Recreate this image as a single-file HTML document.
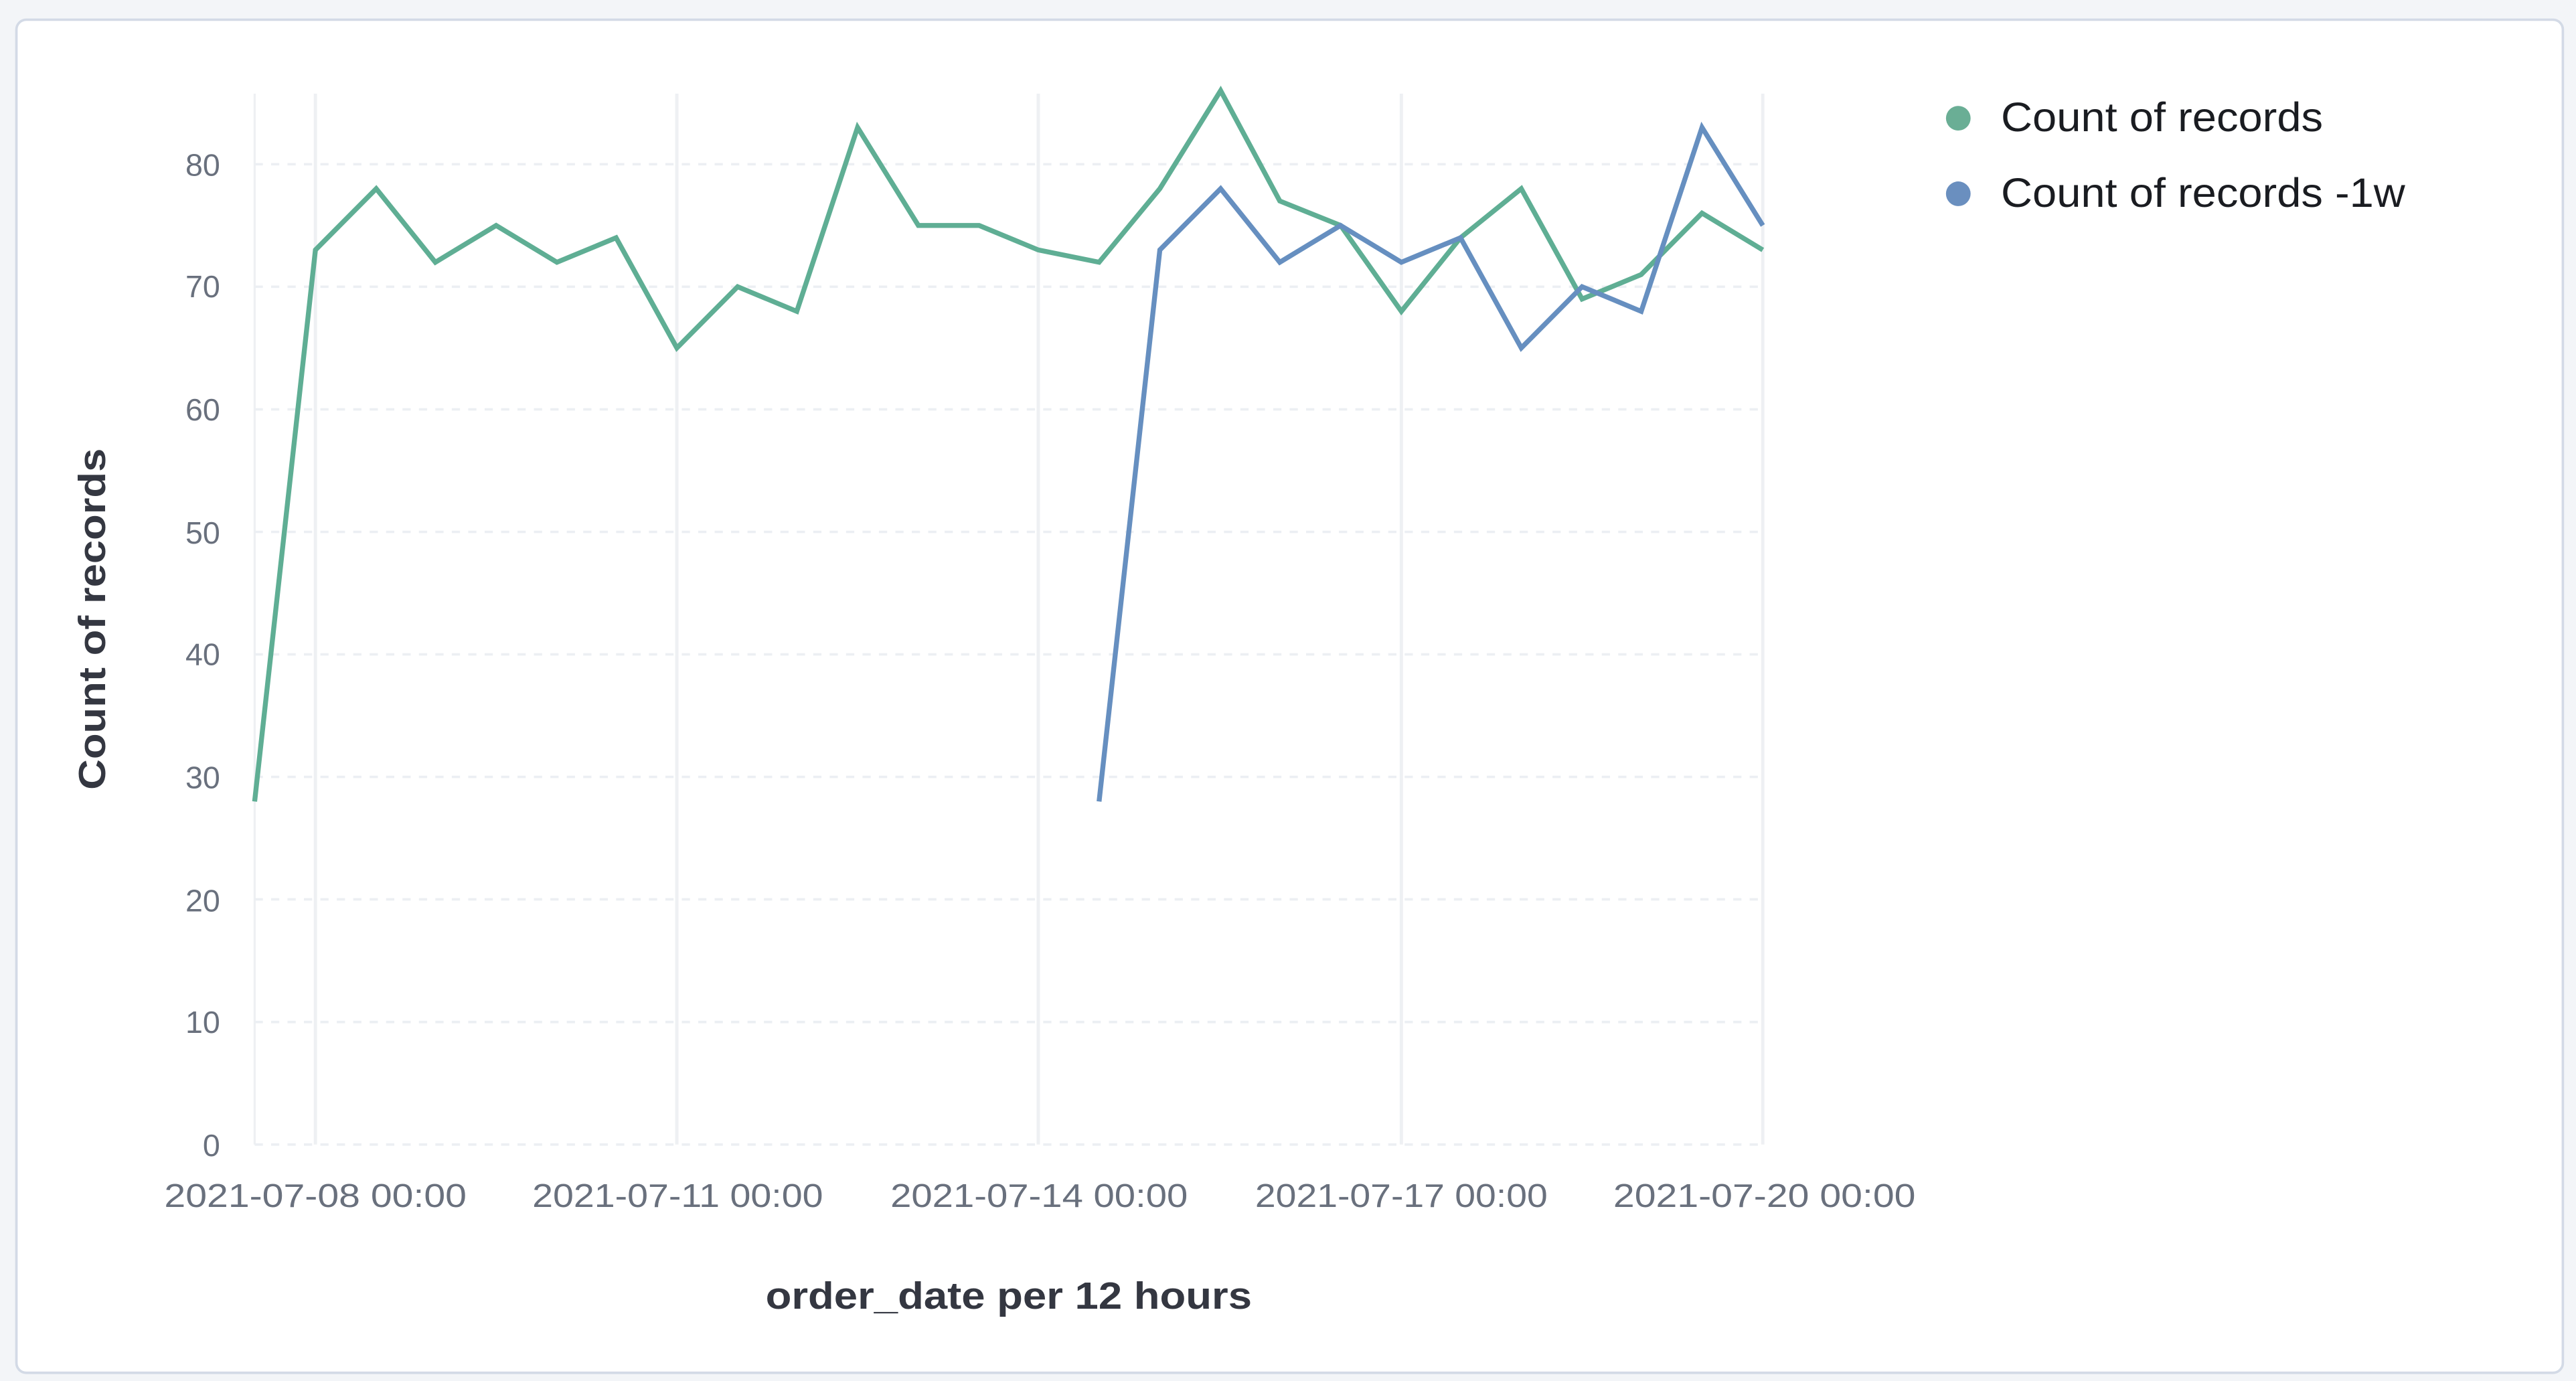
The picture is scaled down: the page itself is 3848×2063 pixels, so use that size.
<!DOCTYPE html>
<html><head><meta charset="utf-8"><style>
html,body{margin:0;padding:0;background:#f3f5f8;}
svg{display:block}
</style></head><body>
<svg width="3848" height="2063" viewBox="0 0 1568 841" preserveAspectRatio="none" xmlns="http://www.w3.org/2000/svg" font-family="'Liberation Sans', sans-serif">
<rect x="0" y="0" width="1568" height="841" fill="#f3f5f8"/>
<rect x="10" y="12" width="1550" height="824" rx="6" fill="#fff" stroke="#d3dae6" stroke-width="1.5"/>
<g stroke="#eef0f3" stroke-width="1.3">
<line x1="155" y1="57" x2="155" y2="697"/>
<line x1="192" y1="57" x2="192" y2="697" stroke-width="2"/>
<line x1="412" y1="57" x2="412" y2="697" stroke-width="2"/>
<line x1="632" y1="57" x2="632" y2="697" stroke-width="2"/>
<line x1="853" y1="57" x2="853" y2="697" stroke-width="2"/>
<line x1="1073" y1="57" x2="1073" y2="697" stroke-width="2"/>
</g>
<g stroke="#eceff3" stroke-width="1.5" stroke-dasharray="5,5">
<line x1="155" y1="697" x2="1073" y2="697"/>
<line x1="155" y1="622.4" x2="1073" y2="622.4"/>
<line x1="155" y1="547.7" x2="1073" y2="547.7"/>
<line x1="155" y1="473.1" x2="1073" y2="473.1"/>
<line x1="155" y1="398.5" x2="1073" y2="398.5"/>
<line x1="155" y1="323.9" x2="1073" y2="323.9"/>
<line x1="155" y1="249.3" x2="1073" y2="249.3"/>
<line x1="155" y1="174.6" x2="1073" y2="174.6"/>
<line x1="155" y1="100" x2="1073" y2="100"/>
</g>
<g fill="#69707d" font-size="19" text-anchor="end">
<text x="134" y="704">0</text>
<text x="134" y="629">10</text>
<text x="134" y="555">20</text>
<text x="134" y="480">30</text>
<text x="134" y="405">40</text>
<text x="134" y="331">50</text>
<text x="134" y="256">60</text>
<text x="134" y="181">70</text>
<text x="134" y="107">80</text>
</g>
<g fill="#69707d" font-size="20">
<text x="100" y="735" textLength="184" lengthAdjust="spacingAndGlyphs">2021-07-08 00:00</text>
<text x="324" y="735" textLength="177" lengthAdjust="spacingAndGlyphs">2021-07-11 00:00</text>
<text x="542" y="735" textLength="181" lengthAdjust="spacingAndGlyphs">2021-07-14 00:00</text>
<text x="764" y="735" textLength="178" lengthAdjust="spacingAndGlyphs">2021-07-17 00:00</text>
<text x="982" y="735" textLength="184" lengthAdjust="spacingAndGlyphs">2021-07-20 00:00</text>
</g>
<text x="466" y="797" font-size="23" font-weight="bold" fill="#343741" textLength="296" lengthAdjust="spacingAndGlyphs">order_date per 12 hours</text>
<text transform="translate(64,481) rotate(-90)" font-size="23" font-weight="bold" fill="#343741" textLength="208" lengthAdjust="spacingAndGlyphs">Count of records</text>
<polyline fill="none" stroke="#5fae94" stroke-width="3" stroke-linejoin="miter" points="155,488.1 192,152.2 229,114.9 265,159.7 302,137.3 339,159.7 375,144.8 412,211.9 449,174.6 485,189.6 522,77.6 559,137.3 596,137.3 632,152.2 669,159.7 706,114.9 743,55.2 779,122.4 816,137.3 853,189.6 889,144.8 926,114.9 963,182.1 999,167.2 1036,129.8 1073,152.2"/>
<polyline fill="none" stroke="#668fc0" stroke-width="3" stroke-linejoin="miter" points="669,488.1 706,152.2 743,114.9 779,159.7 816,137.3 853,159.7 889,144.8 926,211.9 963,174.6 999,189.6 1036,77.6 1073,137.3"/>
<circle cx="1192" cy="72" r="7.5" fill="#6aae95"/>
<circle cx="1192" cy="118" r="7.5" fill="#6a8fbf"/>
<text x="1218" y="80" font-size="25" fill="#1a1c21" textLength="196" lengthAdjust="spacingAndGlyphs">Count of records</text>
<text x="1218" y="126" font-size="25" fill="#1a1c21" textLength="246" lengthAdjust="spacingAndGlyphs">Count of records -1w</text>
</svg>
</body></html>
